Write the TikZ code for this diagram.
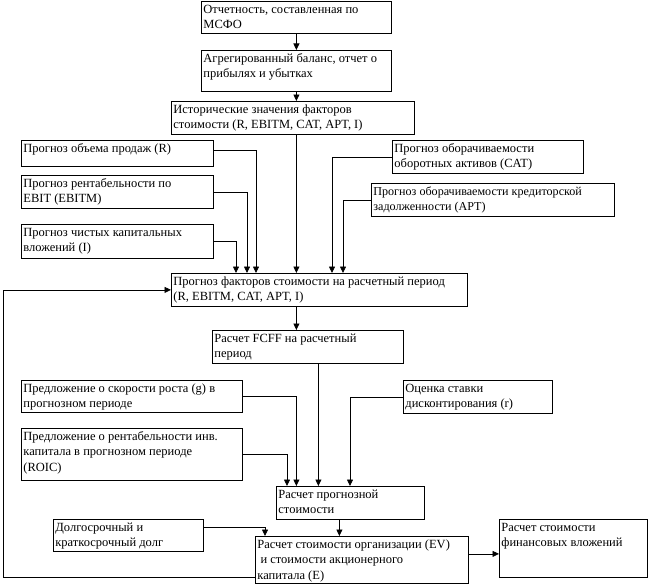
\documentclass[tikz,border=0pt]{standalone}
\usepackage{fontspec}
\setmainfont{Liberation Serif}
\usetikzlibrary{arrows.meta}
\tikzset{
  x=1pt, y=1pt,
  bx/.style={draw, rectangle, line width=0.8pt, anchor=north west, inner sep=0pt,
    font=\fontsize{12.5}{15.5}\selectfont},
  arr/.style={line width=0.8pt, -{Triangle[length=6.5pt,width=6pt]}},
  ln/.style={line width=0.8pt}
}
% name, x, y, width, height, text
\newcommand{\bxnode}[6]{\node[bx] (#1) at (#2,-#3) {\parbox[c][#5pt][t]{#4pt}{\vspace*{1pt}\hspace*{2pt}\begin{tabular}[t]{@{}l@{}}#6\end{tabular}}};}
\begin{document}
\begin{tikzpicture}
\useasboundingbox (0,0) rectangle (648,-586);
\bxnode{b1}{201}{1}{190}{32}{Отчетность, составленная по\\МСФО}
\bxnode{b2}{201}{50}{190}{41}{Агрегированный баланс, отчет о\\прибылях и убытках}
\bxnode{b3}{171}{101}{243}{33}{Исторические значения факторов\\стоимости (R, EBITM, CAT, APT, I)}
\bxnode{b4}{21}{140}{192}{26}{Прогноз объема продаж (R)}
\bxnode{b5}{21}{175}{192}{33}{Прогноз рентабельности по\\EBIT (EBITM)}
\bxnode{b6}{21}{224}{192}{34}{Прогноз чистых капитальных\\вложений (I)}
\bxnode{b7}{392}{140}{191}{33}{Прогноз оборачиваемости\\оборотных активов (CAT)}
\bxnode{b8}{371}{183}{243}{33}{\fontsize{12.1}{15.5}\selectfont Прогноз оборачиваемости кредиторской\\\fontsize{12.1}{15.5}\selectfont задолженности (APT)}
\bxnode{b9}{171}{273}{296}{33}{Прогноз факторов стоимости на расчетный период\\(R, EBITM, CAT, APT, I)}
\bxnode{b10}{212}{330}{191}{33}{Расчет FCFF на расчетный\\период}
\bxnode{b11}{21}{380}{221}{32}{Предложение о скорости роста (g) в\\прогнозном периоде}
\bxnode{b12}{21}{428}{221}{52}{Предложение о рентабельности инв.\\капитала в прогнозном периоде\\(ROIC)}
\bxnode{b13}{403}{380}{149}{33}{Оценка ставки\\дисконтирования (r)}
\bxnode{b14}{276}{486}{148}{33}{Расчет прогнозной\\стоимости}
\bxnode{b15}{53}{519}{150}{32}{Долгосрочный и\\краткосрочный долг}
\bxnode{b16}{255}{536}{213}{47}{Расчет стоимости организации (EV)\\\ и стоимости акционерного\\капитала (E)}
\bxnode{b17}{499}{519}{148}{58}{Расчет стоимости\\финансовых вложений}
\coordinate (fbx) at (3,0);
% main spine
\draw[arr] (b1.south -| b2.north) -- (b2.north);
\draw[arr] (b2.south) -- (b2.south |- b3.north);
\draw[arr] (b3.south -| b2.south) -- (b9.north -| b2.south);
\draw[arr] (b9.south -| b2.south) -- (b10.north -| b2.south);
% inputs into b9
\draw[arr] ([yshift=3pt]b4.east) -| ([xshift=85pt]b9.north west);
\draw[arr] (b5.east) -| ([xshift=76pt]b9.north west);
\draw[arr] (b6.east) -| ([xshift=65pt]b9.north west);
\draw[arr] (b7.west) -| ([xshift=161pt]b9.north west);
\draw[arr] (b8.west) -| ([xshift=172pt]b9.north west);
% into b14
\draw[arr] ([xshift=10.5pt]b10.south) -- ([xshift=10.5pt]b10.south |- b14.north);
\draw[arr] (b11.east) -| (b14.north -| b2.south);
\draw[arr] (b12.east) -| ([xshift=11pt]b14.north west);
\draw[arr] (b13.west) -| ([xshift=74pt]b14.north west);
% into b16
\draw[arr] ([xshift=-11pt]b14.south) -- ([xshift=-11pt]b14.south |- b16.north);
\draw[arr] ([yshift=8pt]b15.east) -| ([xshift=10pt]b16.north west);
\draw[arr] ([yshift=6pt]b16.east) -- ([yshift=6pt]b16.east -| b17.west);
% feedback
\draw[arr] ([yshift=-17.5pt]b16.west) -| (fbx |- b9.west) -- (b9.west);
\end{tikzpicture}
\end{document}
